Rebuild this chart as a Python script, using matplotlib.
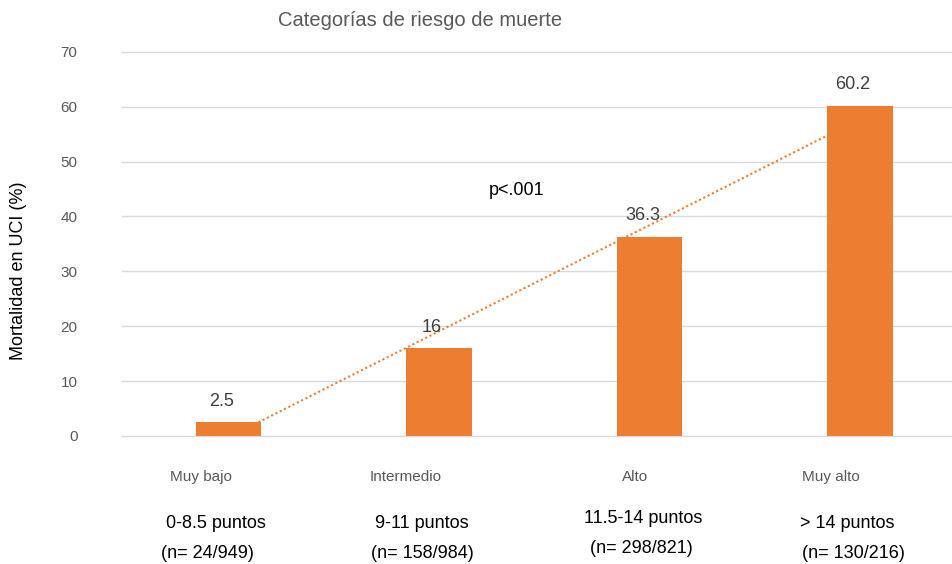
import numpy as np
import matplotlib
matplotlib.use("Agg")
import matplotlib.pyplot as plt

plt.rcParams['font.family'] = ['Liberation Sans', 'DejaVu Sans']

categorias = ["Muy bajo", "Intermedio", "Alto", "Muy alto"]
mortalidad = [2.5, 16, 36.3, 60.2]
puntos = ["0-8.5 puntos", "9-11 puntos", "11.5-14 puntos", "> 14 puntos"]
casos = ["(n= 24/949)", "(n= 158/984)", "(n= 298/821)", "(n= 130/216)"]
valor_p = "p<.001"

naranja = '#ED7D31'
gris = '#595959'

fig = plt.figure(figsize=(9.52, 5.64), dpi=100)
ax = fig.add_axes([0.128, 0.227, 0.872, 0.681])

x = np.arange(len(categorias))
ax.bar(x, mortalidad, width=0.31, color=naranja, zorder=3)

# linea de tendencia (regresion lineal) detras de las barras
m, b = np.polyfit(x, mortalidad, 1)
xt = np.linspace(0, 3, 50)
ax.plot(xt, m * xt + b, color=naranja, linestyle=(0, (1, 1.3)), lw=1.5, zorder=2)

for xi, v in zip(x, mortalidad):
    ax.annotate(f"{v:g}", (xi, v), xytext=(-5, 9), textcoords='offset points',
                ha='center', va='bottom', fontsize=13, color='#404040')

ax.set_xlim(-0.506, 3.437)
ax.set_ylim(0, 70)
ax.set_yticks(range(0, 71, 10))
ax.yaxis.grid(True, color='#D9D9D9', lw=1)
for gl in ax.get_ygridlines():
    gl.set_clip_on(False)
ax.set_axisbelow(True)
for s in ax.spines.values():
    s.set_visible(False)
ax.tick_params(axis='y', length=0, labelsize=11, labelcolor=gris, pad=32)
ax.set_xticks([])

ax.text(1.37, 44.7, valor_p, ha='center', va='center', fontsize=13, color='black')

# etiquetas de categoria y filas de texto debajo
tr = ax.get_xaxis_transform()
offs_cat = [-0.13, -0.16, -0.07, -0.14]
offs_p = [-0.06, -0.08, -0.03, -0.06]
offs_n = [-0.10, -0.08, -0.04, -0.03]
for i in range(len(categorias)):
    ax.text(x[i] + offs_cat[i], -0.108, categorias[i], transform=tr, ha='center',
            va='center', fontsize=11, color=gris)
    yp = -0.228 if i != 2 else -0.215
    yn = -0.306 if i != 2 else -0.293
    ax.text(x[i] + offs_p[i], yp, puntos[i], transform=tr, ha='center',
            va='center', fontsize=13, color='black')
    ax.text(x[i] + offs_n[i], yn, casos[i], transform=tr, ha='center',
            va='center', fontsize=13, color='black')

fig.text(0.441, 0.963, "Categorías de riesgo de muerte", ha='center', va='center',
         fontsize=14.5, color=gris)
fig.text(0.019, 0.52, "Mortalidad en UCI (%)", rotation=90, ha='center', va='center',
         fontsize=13, color='black')

fig.savefig("out.png", dpi=100)
